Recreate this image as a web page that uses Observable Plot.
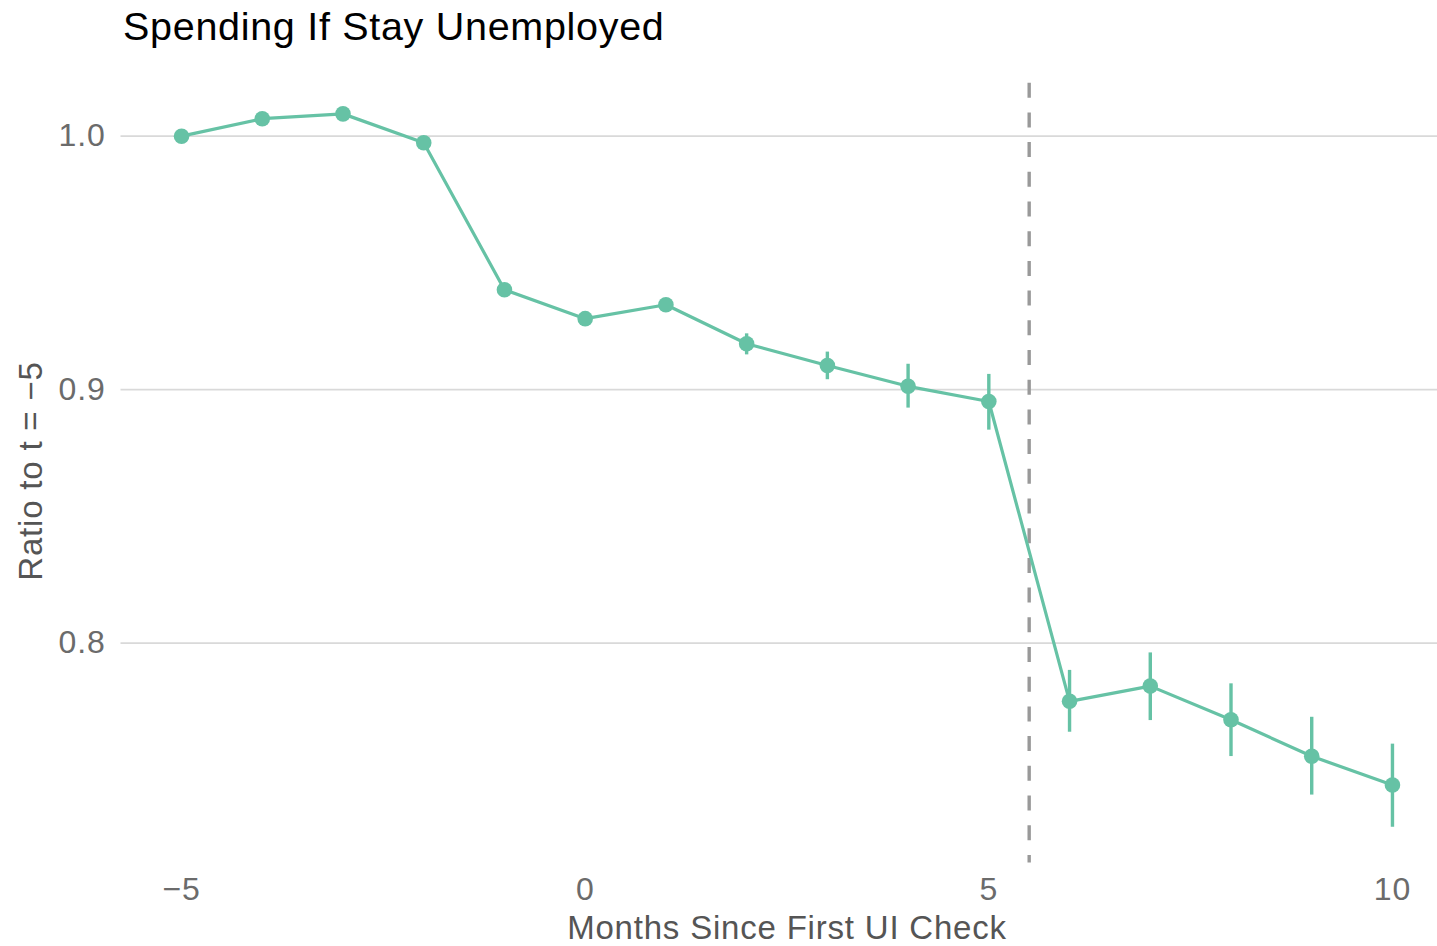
<!DOCTYPE html>
<html>
<head>
<meta charset="utf-8">
<script src="https://cdn.jsdelivr.net/npm/d3@7"></script>
<script src="https://cdn.jsdelivr.net/npm/@observablehq/plot@0.6"></script>
<style>
  body { margin: 0; background: #fff; font-family: "Liberation Sans", Arial, sans-serif; }
  #title {
    height: 60px; box-sizing: border-box;
    padding-top: 6.6px; padding-left: 123px;
    font-size: 39.5px; line-height: 39.5px; letter-spacing: 0.7px;
    color: #000; white-space: nowrap;
  }
  #chart svg { display: block; overflow: hidden; }
  #chart svg text { letter-spacing: 0.8px; }
</style>
</head>
<body>
<div id="title">Spending If Stay Unemployed</div>
<div id="chart"></div>
<script>
// Months relative to the first unemployment-insurance check
const months = [-5, -4, -3, -2, -1, 0, 1, 2, 3, 4, 5, 6, 7, 8, 9, 10];
// Spending relative to month -5
const ratio  = [1.000, 1.0069, 1.0088, 0.9974, 0.9394, 0.9280, 0.9335, 0.9181,
                0.9095, 0.9013, 0.8953, 0.7770, 0.7830, 0.7697, 0.7553, 0.7440];
// 95% confidence band bounds
const ciLow  = [1.000, 1.0069, 1.0088, 0.9974, 0.9394, 0.9280, 0.9335, 0.9137,
                0.9039, 0.8927, 0.8840, 0.7648, 0.7694, 0.7552, 0.7400, 0.7273];
const ciHigh = [1.000, 1.0069, 1.0088, 0.9974, 0.9394, 0.9280, 0.9335, 0.9220,
                0.9148, 0.9100, 0.9060, 0.7892, 0.7961, 0.7839, 0.7707, 0.7601];

const xTicks = [-5, 0, 5, 10];
const yTicks = [0.8, 0.9, 1.0];
const benefitExhaustion = [5.5];

const rows = months.map((m, i) => ({month: m, ratio: ratio[i], lo: ciLow[i], hi: ciHigh[i]}));

const green = "#66C2A5";
const tickColor = "#6b6b6b";
const titleColor = "#555555";
const font = "Liberation Sans, Arial, sans-serif";

const chart = Plot.plot({
  width: 1437,
  height: 886,
  marginLeft: 120.5,
  marginRight: -15.5,
  marginTop: 14.6,
  marginBottom: 83.5,
  style: {fontFamily: font, background: "#fff", overflow: "hidden"},
  x: {domain: [-5.75, 10.75]},
  y: {domain: [0.7132, 1.0241]},
  marks: [
    Plot.gridY(yTicks, {stroke: "#d9d9d9", strokeOpacity: 1, strokeWidth: 1.7}),
    Plot.ruleX(benefitExhaustion, {stroke: "#999999", strokeWidth: 3.4,
      strokeDasharray: "15,14.7", strokeDashoffset: 21.6}),
    Plot.line(rows, {x: "month", y: "ratio", stroke: green, strokeWidth: 3.2}),
    Plot.ruleX(rows, {x: "month", y1: "lo", y2: "hi", stroke: green, strokeWidth: 3.4}),
    Plot.dot(rows, {x: "month", y: "ratio", r: 7.8, fill: green, stroke: "none"}),
    Plot.axisX(xTicks, {tickSize: 0, tickPadding: 14.5, fontSize: 32, fill: tickColor,
      tickFormat: d3.format("d"), label: null}),
    Plot.axisY(yTicks, {tickSize: 0, tickPadding: 15.5, fontSize: 32, fill: tickColor,
      tickFormat: d3.format(".1f"), label: null}),
    Plot.text(["Months Since First UI Check"], {frameAnchor: "bottom", text: d => d,
      lineAnchor: "bottom", dy: 75.5, fontSize: 33, fill: titleColor}),
    Plot.text(["Ratio to t = \u22125"], {frameAnchor: "left", text: d => d,
      rotate: -90, textAnchor: "middle", lineAnchor: "bottom", dx: -78.8, dy: 2,
      fontSize: 33, fill: titleColor})
  ]
});
document.getElementById("chart").appendChild(chart);
</script>
</body>
</html>
